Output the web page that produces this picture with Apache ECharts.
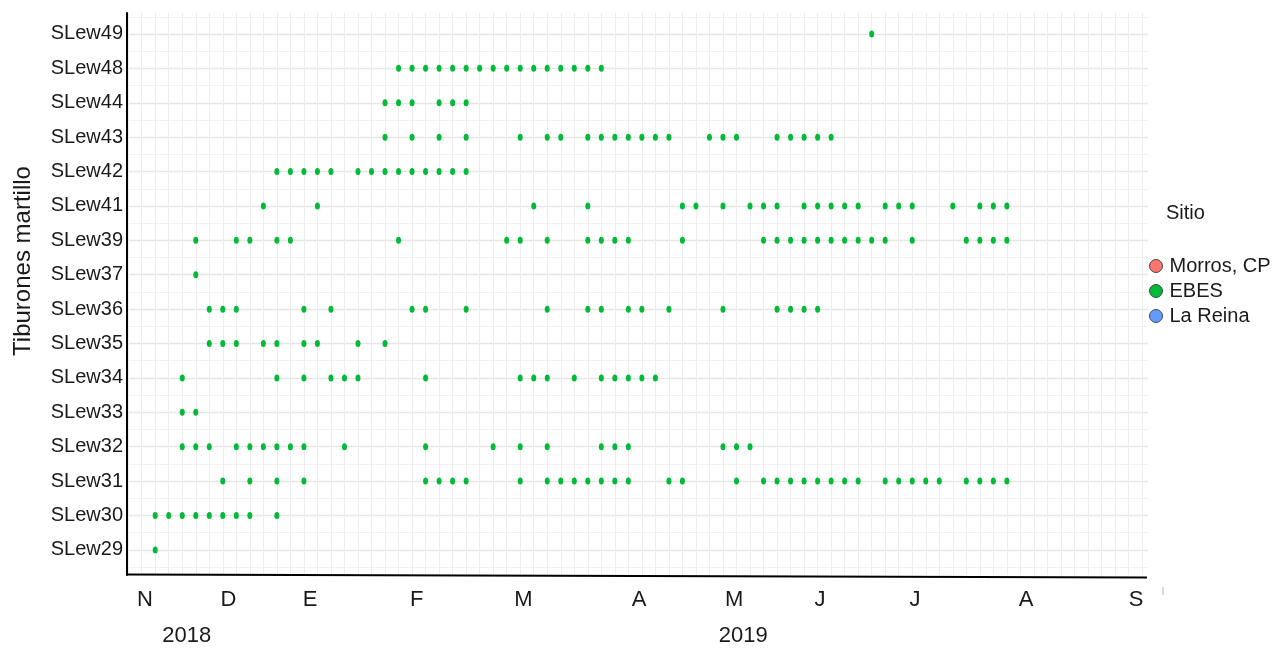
<!DOCTYPE html>
<html>
<head>
<meta charset="utf-8">
<title>Detecciones de tiburones martillo</title>
<script src="https://cdn.jsdelivr.net/npm/echarts@6/dist/echarts.min.js"></script>
<style>
  html, body { margin: 0; padding: 0; background: #ffffff; }
  #chart { width: 1277px; height: 648px; }
</style>
</head>
<body>
<div id="chart"></div>
<script>
// Tagged sharks, bottom to top on the y axis
const sharks = ['SLew29', 'SLew30', 'SLew31', 'SLew32', 'SLew33', 'SLew34', 'SLew35', 'SLew36',
                'SLew37', 'SLew39', 'SLew41', 'SLew42', 'SLew43', 'SLew44', 'SLew48', 'SLew49'];

// Weeks (counted from the start of November 2018) with detections at EBES
const SLew29 = [1];
const SLew30 = [1, 2, 3, 4, 5, 6, 7, 8, 10];
const SLew31 = [6, 8, 10, 12, 21, 22, 23, 24, 28, 30, 31, 32, 33, 34, 35, 36, 39, 40, 44, 46, 47, 48,
                49, 50, 51, 52, 53, 55, 56, 57, 58, 59, 61, 62, 63, 64];
const SLew32 = [3, 4, 5, 7, 8, 9, 10, 11, 12, 15, 21, 26, 28, 30, 34, 35, 36, 43, 44, 45];
const SLew33 = [3, 4];
const SLew34 = [3, 10, 12, 14, 15, 16, 21, 28, 29, 30, 32, 34, 35, 36, 37, 38];
const SLew35 = [5, 6, 7, 9, 10, 12, 13, 16, 18];
const SLew36 = [5, 6, 7, 12, 14, 20, 21, 24, 30, 33, 34, 36, 37, 39, 43, 47, 48, 49, 50];
const SLew37 = [4];
const SLew39 = [4, 7, 8, 10, 11, 19, 27, 28, 30, 33, 34, 35, 36, 40, 46, 47, 48, 49, 50, 51, 52, 53,
                54, 55, 57, 61, 62, 63, 64];
const SLew41 = [9, 13, 29, 33, 40, 41, 43, 45, 46, 47, 49, 50, 51, 52, 53, 55, 56, 57, 60, 62, 63, 64];
const SLew42 = [10, 11, 12, 13, 14, 16, 17, 18, 19, 20, 21, 22, 23, 24];
const SLew43 = [18, 20, 22, 24, 28, 30, 31, 33, 34, 35, 36, 37, 38, 39, 42, 43, 44, 47, 48, 49, 50, 51];
const SLew44 = [18, 19, 20, 22, 23, 24];
const SLew48 = [19, 20, 21, 22, 23, 24, 25, 26, 27, 28, 29, 30, 31, 32, 33, 34];
const SLew49 = [54];

const detectionsBySharks = [SLew29, SLew30, SLew31, SLew32, SLew33, SLew34, SLew35, SLew36,
                            SLew37, SLew39, SLew41, SLew42, SLew43, SLew44, SLew48, SLew49];

// Month initials along the time axis and where they sit (in weeks)
const monthLabels = ['N', 'D', 'E', 'F', 'M', 'A', 'M', 'J', 'J', 'A', 'S'];
const monthWeeks = [0.24, 6.41, 12.45, 20.34, 28.23, 36.79, 43.82, 50.18, 57.21, 65.42, 73.55];
const yearLabels = ['2018', '2019'];
const yearWeeks = [3.33, 44.5];

// Sites shown in the legend
const sites = ['Morros, CP', 'EBES', 'La Reina'];
const siteColors = ['#F8766D', '#00BA38', '#619CFF'];

// Axis extents
const X_MIN = -1.087, X_MAX = 74.44;
const Y_MIN = -0.73, Y_MAX = 15.61;

const FONT = '"Liberation Sans", Arial, Helvetica, sans-serif';
const INK = '#1a1a1a';

const weekLines = [];
for (let w = -1; w <= 74; w++) weekLines.push(w);
const rowLines = sharks.map((_, i) => i);
const halfRowLines = [];
for (let i = -1; i < sharks.length; i++) halfRowLines.push(i + 0.5);

const ebesPoints = [];
detectionsBySharks.forEach((weeks, row) => {
  weeks.forEach(w => ebesPoints.push([w, row]));
});

const chart = echarts.init(document.getElementById('chart'), null, { renderer: 'canvas' });

chart.setOption({
  animation: false,
  backgroundColor: '#ffffff',
  grid: { left: 127, right: 129, top: 13, bottom: 73 },
  xAxis: [
    {
      type: 'value', min: X_MIN, max: X_MAX, position: 'bottom',
      axisLine: { show: false, onZero: false },
      axisTick: { show: false, customValues: weekLines },
      splitLine: { show: true, lineStyle: { color: '#ededed', width: 1 } },
      axisLabel: {
        customValues: monthWeeks,
        formatter: v => monthLabels[monthWeeks.indexOf(v)],
        fontSize: 22, fontFamily: FONT, color: INK, margin: 14
      }
    },
    {
      type: 'value', min: X_MIN, max: X_MAX, position: 'bottom',
      axisLine: { show: false, onZero: false },
      axisTick: { show: false, customValues: yearWeeks },
      splitLine: { show: false },
      axisLabel: {
        customValues: yearWeeks,
        formatter: v => yearLabels[yearWeeks.indexOf(v)],
        fontSize: 22, fontFamily: FONT, color: INK, margin: 50
      }
    }
  ],
  yAxis: [
    {
      type: 'value', min: Y_MIN, max: Y_MAX, position: 'left',
      axisLine: { show: true, onZero: false, lineStyle: { color: '#000000', width: 2 } },
      axisTick: { show: false, customValues: rowLines },
      splitLine: { show: true, lineStyle: { color: '#e6e6e6', width: 1.3 } },
      axisLabel: {
        customValues: rowLines,
        formatter: v => sharks[v],
        fontSize: 20, fontFamily: FONT, color: INK, margin: 4
      }
    },
    {
      type: 'value', min: Y_MIN, max: Y_MAX, position: 'left',
      axisLine: { show: false, onZero: false },
      axisTick: { show: false, customValues: halfRowLines },
      splitLine: { show: true, lineStyle: { color: '#f1f1f1', width: 1 } },
      axisLabel: { show: false }
    }
  ],
  legend: {
    orient: 'vertical',
    left: 1144, top: 251,
    itemWidth: 13, itemHeight: 13, itemGap: 5,
    icon: 'circle',
    itemStyle: { borderColor: '#4a4a4a', borderWidth: 1, opacity: 1 },
    textStyle: { fontSize: 20, fontFamily: FONT, color: INK, lineHeight: 20, padding: [0, 0, 0, 2] },
    data: sites
  },
  series: sites.map((site, i) => ({
    name: site,
    type: 'scatter',
    xAxisIndex: 0, yAxisIndex: 0,
    symbol: 'circle',
    symbolSize: [5, 7],
    itemStyle: { color: siteColors[i], opacity: 1 },
    emphasis: { disabled: true },
    data: site === 'EBES' ? ebesPoints : []
  })),
  graphic: [
    {
      type: 'text', x: 23, y: 261, rotation: Math.PI / 2,
      style: {
        text: 'Tiburones martillo', fontSize: 24, fontFamily: FONT, fill: INK,
        align: 'center', verticalAlign: 'middle', textAlign: 'center', textVerticalAlign: 'middle'
      }
    },
    {
      type: 'text', x: 1166, y: 213,
      style: {
        text: 'Sitio', fontSize: 20, fontFamily: FONT, fill: INK,
        align: 'left', verticalAlign: 'middle', textAlign: 'left', textVerticalAlign: 'middle'
      }
    },
    {
      type: 'line', z: 100,
      shape: { x1: 127, y1: 574.5, x2: 1147, y2: 577.5 },
      style: { stroke: '#000000', lineWidth: 2 }
    },
    {
      type: 'line', z: 100,
      shape: { x1: 1163, y1: 587, x2: 1163, y2: 595 },
      style: { stroke: '#b5b5b5', lineWidth: 1 }
    }
  ]
});
</script>
</body>
</html>
